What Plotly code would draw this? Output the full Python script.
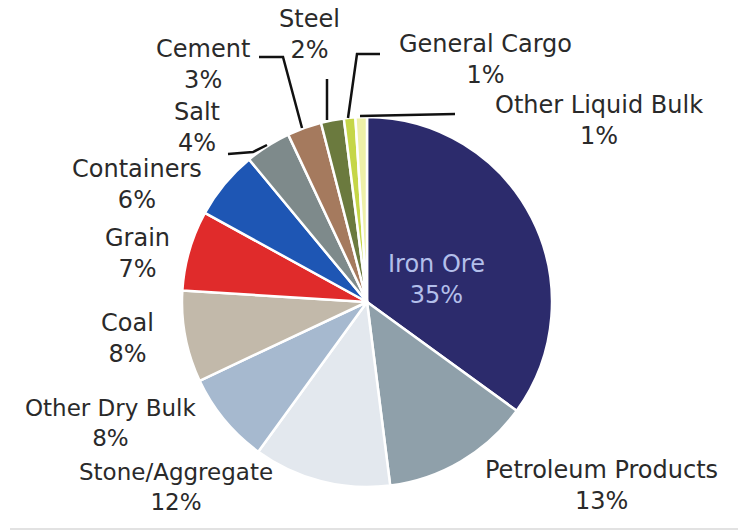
import plotly.graph_objects as go

W, H = 738, 531

# ---- data ----
categories = ["Iron Ore", "Petroleum Products", "Stone/Aggregate", "Other Dry Bulk",
              "Coal", "Grain", "Containers", "Salt", "Cement", "Steel",
              "General Cargo", "Other Liquid Bulk"]
shares = [35, 13, 12, 8, 8, 7, 6, 4, 3, 2, 1, 1]
colors = ["#2C2B6C", "#8FA0AA", "#E3E8EE", "#A6B9CF", "#C2B9AA", "#E02B2B",
          "#1E56B4", "#7E8A8B", "#A57A5E", "#6B7A3E", "#C5D648", "#EEF0A8"]

# label placement (pixel centres of the two-line label blocks)
label_pos = {
    "Iron Ore": (437, 279),
    "Petroleum Products": (601, 485),
    "Stone/Aggregate": (176, 487),
    "Other Dry Bulk": (110, 423),
    "Coal": (127, 338),
    "Grain": (137, 253),
    "Containers": (137, 184),
    "Salt": (197, 128),
    "Cement": (203, 65),
    "Steel": (309, 34),
    "General Cargo": (485, 59),
    "Other Liquid Bulk": (599, 121),
}
# leader lines (pixel polylines)
leaders = [
    [(259, 57), (283, 57), (302, 128)],          # Cement
    [(228, 154), (253, 152), (267, 145)],        # Salt
    [(327, 79), (327, 120)],                     # Steel
    [(380, 54), (357, 54), (348, 118)],          # General Cargo
    [(360, 116), (455, 114)],                    # Other Liquid Bulk
]

cx, cy, r = 367, 302, 185


def px(x):
    return x / W


def py(y):
    return 1 - y / H


fig = go.Figure(go.Pie(
    labels=categories,
    values=shares,
    sort=False,
    direction="clockwise",
    rotation=0,
    marker=dict(colors=colors, line=dict(color="white", width=2.5)),
    textinfo="none",
    hoverinfo="label+percent",
    showlegend=False,
    domain=dict(x=[px(cx - r), px(cx + r)], y=[py(cy + r), py(cy - r)]),
))

annotations = []
for name, val in zip(categories, shares):
    x, y = label_pos[name]
    col = "#B3BFEA" if name == "Iron Ore" else "#2A2A2A"
    size = 23 if name in ("Other Dry Bulk", "Stone/Aggregate") else 24
    annotations.append(dict(
        x=px(x), y=py(y), xref="paper", yref="paper",
        text=f"{name}<br>{val}%", showarrow=False,
        xanchor="center", yanchor="middle", align="center",
        font=dict(family="DejaVu Sans, Arial, sans-serif", size=size, color=col),
    ))

shapes = []
for pts in leaders:
    path = "M " + " L ".join(f"{px(a)},{py(b)}" for a, b in pts)
    shapes.append(dict(type="path", xref="paper", yref="paper", path=path,
                       line=dict(color="#111111", width=2.5)))
shapes.append(dict(type="line", xref="paper", yref="paper",
                   x0=px(10), x1=1, y0=py(529), y1=py(529),
                   line=dict(color="#E2E2E2", width=2)))

fig.update_layout(
    width=W, height=H,
    margin=dict(l=0, r=0, t=0, b=0),
    paper_bgcolor="white",
    plot_bgcolor="white",
    annotations=annotations,
    shapes=shapes,
)

fig.write_html("out.html")
